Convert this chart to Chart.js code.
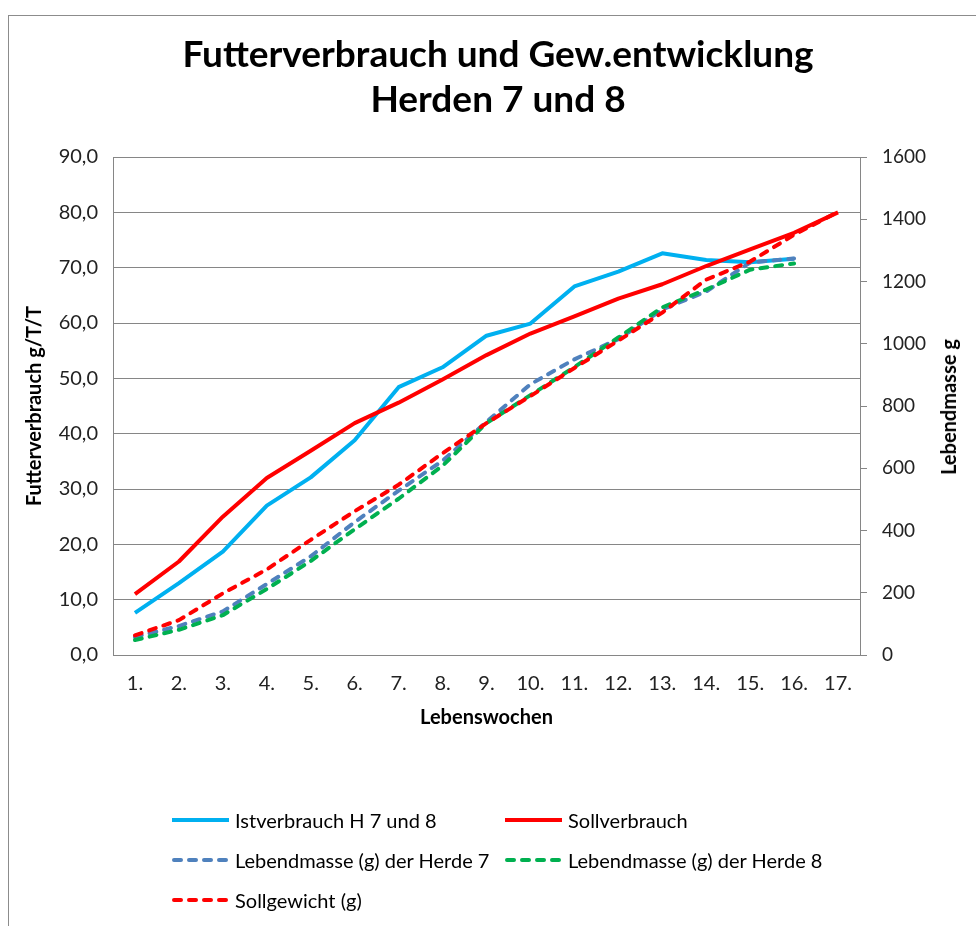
<!DOCTYPE html>
<html>
<head>
<meta charset="utf-8">
<script src="https://cdn.jsdelivr.net/npm/chart.js@4.4.1/dist/chart.umd.min.js"></script>
<style>
    body { margin: 0; background: #fff; font-family: Lato, sans-serif; }
    #wrap { position: relative; width: 976px; height: 926px; overflow: hidden; }
    #frame { position: absolute; left: 8px; top: 15px; width: 2000px; height: 2000px;
             border-left: 1px solid #8c8c8c; border-top: 1px solid #8c8c8c; }
    canvas { position: absolute; left: 0; top: 0; }
    .title { position: absolute; left: 498px; transform: translate(-50%, -50%);
             font-weight: bold; font-size: 37px; white-space: nowrap; color: #000; }
    #rightTitle { position: absolute; left: 948px; top: 407px; white-space: nowrap;
                  transform: translate(-50%, -50%) rotate(-90deg);
                  font-weight: bold; font-size: 20px; color: #000; }
    .legend-item { position: absolute; display: flex; align-items: center;
                   transform: translateY(-50%); font-size: 20px; color: #000; white-space: nowrap; }
    .legend-item svg { margin-right: 6px; }
</style>
</head>
<body>
<div id="wrap">
    <div id="frame"></div>
    <canvas id="chart" width="976" height="926"></canvas>
    <div class="title" style="top:52px">Futterverbrauch und Gew.entwicklung</div>
    <div class="title" style="top:97px">Herden 7 und 8</div>
    <div id="rightTitle">Lebendmasse g</div>
    <div id="legend"></div>
</div>
<script>
// Lebenswochen
const weeks = ['1.', '2.', '3.', '4.', '5.', '6.', '7.', '8.', '9.', '10.', '11.', '12.', '13.', '14.', '15.', '16.', '17.'];

// Futterverbrauch g/T/T (linke Achse)
const istverbrauch = [7.6, 13.0, 18.7, 27.0, 32.1, 38.8, 48.4, 52.0, 57.7, 59.9, 66.6, 69.3, 72.6, 71.4, 71.0, 71.6, null];
const sollverbrauch = [11.0, 16.9, 25.0, 32.0, 36.9, 41.9, 45.6, 49.8, 54.2, 58.1, 61.2, 64.4, 67.0, 70.3, 73.3, 76.3, 80.0];

// Lebendmasse g (rechte Achse)
const herde7 = [58, 93, 140, 228, 317, 427, 528, 624, 749, 870, 950, 1015, 1110, 1168, 1261, 1274, null];
const herde8 = [48, 81, 128, 212, 302, 404, 502, 608, 745, 835, 925, 1020, 1117, 1174, 1238, 1258, null];
const sollgewicht = [63, 112, 198, 275, 370, 462, 547, 648, 745, 832, 922, 1010, 1100, 1206, 1264, 1350, 1424];

const colors = {
    ist: '#00b0f0',
    soll: '#ff0000',
    herde7: '#4f81bd',
    herde8: '#00b050'
};
const dash = [7, 8];
const axisGray = '#868686';
const tickFont = { family: 'Lato', size: 20 };

const datasets = [
    { label: 'Istverbrauch H 7 und 8', data: istverbrauch, yAxisID: 'y', borderColor: colors.ist, order: 5 },
    { label: 'Sollverbrauch', data: sollverbrauch, yAxisID: 'y', borderColor: colors.soll, order: 4 },
    { label: 'Lebendmasse (g) der Herde 7', data: herde7, yAxisID: 'y1', borderColor: colors.herde7, borderDash: dash, order: 3 },
    { label: 'Lebendmasse (g) der Herde 8', data: herde8, yAxisID: 'y1', borderColor: colors.herde8, borderDash: dash, order: 2 },
    { label: 'Sollgewicht (g)', data: sollgewicht, yAxisID: 'y1', borderColor: colors.soll, borderDash: dash, order: 1 }
];
datasets.forEach(ds => {
    ds.borderWidth = 4;
    ds.pointRadius = 0;
    ds.tension = 0;
    ds.fill = false;
    ds.borderCapStyle = ds.borderDash ? 'round' : 'butt';
    ds.borderJoinStyle = 'round';
});

new Chart(document.getElementById('chart'), {
    type: 'line',
    data: { labels: weeks, datasets: datasets },
    options: {
        responsive: false,
        animation: false,
        layout: { padding: { top: 157, bottom: 926 - 657 - 73, left: 0, right: 0 } },
        plugins: {
            legend: { display: false },
            tooltip: { enabled: false }
        },
        scales: {
            x: {
                offset: true,
                grid: { display: false, drawTicks: false },
                border: { color: axisGray },
                ticks: { padding: 17, color: '#222', font: tickFont, maxRotation: 0, autoSkip: false },
                title: {
                    display: true, text: 'Lebenswochen', color: '#000', padding: 0,
                    font: { family: 'Lato', size: 20, weight: 'bold' }
                },
                afterFit: (scale) => { scale.height = 75; }
            },
            y: {
                position: 'left',
                min: 0,
                max: 90,
                grid: { color: axisGray, drawTicks: false },
                border: { color: axisGray },
                ticks: {
                    stepSize: 10, padding: 15, color: '#222', font: tickFont,
                    callback: (value) => value.toFixed(1).replace('.', ',')
                },
                title: {
                    display: true, text: 'Futterverbrauch g/T/T', color: '#000',
                    padding: { top: 23, bottom: 0 },
                    font: { family: 'Lato', size: 20, weight: 'bold' }
                },
                afterFit: (scale) => { scale.width = 113; }
            },
            y1: {
                position: 'right',
                min: 0,
                max: 1600,
                grid: { drawOnChartArea: false, drawTicks: true, tickLength: 7, color: axisGray },
                border: { color: axisGray },
                ticks: {
                    stepSize: 200, padding: 15, color: '#222', font: { family: 'Lato', size: 19 },
                    callback: (value) => String(value)
                },
                afterFit: (scale) => { scale.width = 116; }
            }
        }
    }
});

// Legende im Excel-Stil: zwei Spalten
const legendCols = [172, 505];
const legendRows = [820, 860, 900];
const legend = document.getElementById('legend');
datasets.forEach((ds, i) => {
    const item = document.createElement('div');
    item.className = 'legend-item';
    item.style.left = legendCols[i % 2] + 'px';
    item.style.top = legendRows[Math.floor(i / 2)] + 'px';
    const dashAttr = ds.borderDash ? ` stroke-dasharray="${ds.borderDash.join(' ')}" stroke-linecap="round"` : '';
    item.innerHTML = `<svg width="57" height="8"><line x1="${ds.borderDash ? 2 : 0}" y1="4" x2="57" y2="4" stroke="${ds.borderColor}" stroke-width="4"${dashAttr}/></svg><span>${ds.label}</span>`;
    legend.appendChild(item);
});
</script>
</body>
</html>
